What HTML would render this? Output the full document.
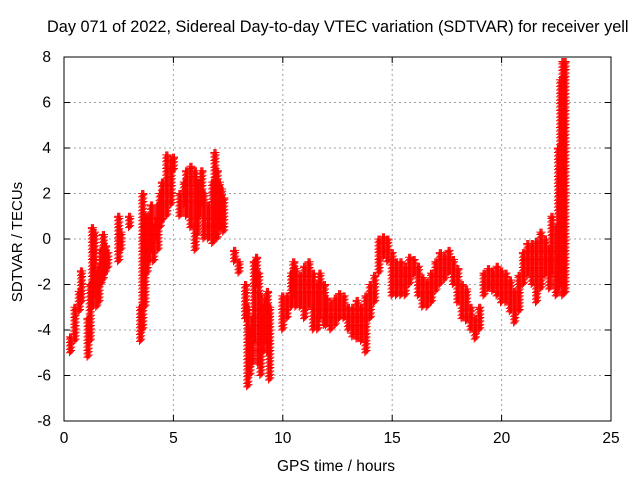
<!DOCTYPE html>
<html><head><meta charset="utf-8"><style>
body{margin:0;background:#fff;}
svg{display:block;font-family:"Liberation Sans",sans-serif;}
</style></head><body>
<svg id="chart" width="640" height="480">
<text x="47" y="32" font-size="16.3" fill="#000">Day 071 of 2022, Sidereal Day-to-day VTEC variation (SDTVAR) for receiver yell</text>
<g id="grid"></g>
<g id="marks"></g>
<rect x="64" y="57" width="547" height="364" fill="none" stroke="#000"/>
<g id="ticks"></g>
<text x="336" y="471" font-size="15.5" text-anchor="middle">GPS time / hours</text>
<text transform="translate(22,242) rotate(-90)" font-size="15" text-anchor="middle">SDTVAR / TECUs</text>
</svg>
<script>
const xTicks=[0,5,10,15,20,25];
const yTicks=[-8,-6,-4,-2,0,2,4,6,8];
const times=[0.3,0.5,0.7,0.8,1.1,1.2,1.3,1.4,1.5,1.6,1.7,1.8,1.9,2.0,2.5,2.6,3.0,3.5,3.6,3.7,3.8,3.9,4.0,4.1,4.2,4.3,4.4,4.5,4.7,4.9,5.0,5.3,5.5,5.6,5.8,6.0,6.1,6.2,6.3,6.4,6.6,6.8,6.9,7.0,7.1,7.2,7.3,7.8,8.0,8.3,8.4,8.5,8.6,8.7,8.8,8.9,9.0,9.1,9.2,9.3,9.4,10.0,10.2,10.4,10.5,10.6,10.8,11.0,11.2,11.4,11.6,11.7,11.9,12.0,12.2,12.4,12.6,12.8,13.0,13.2,13.4,13.6,13.8,14.0,14.2,14.4,14.6,14.8,15.0,15.2,15.4,15.6,15.8,16.0,16.2,16.4,16.6,16.8,17.0,17.2,17.4,17.6,17.8,18.0,18.2,18.4,18.6,18.8,19.0,19.2,19.4,19.6,19.8,20.0,20.2,20.4,20.6,20.8,21.0,21.2,21.4,21.6,21.8,22.0,22.2,22.3,22.5,22.6,22.7,22.8,22.9];
const lows=[-5,-4.5,-3.2,-2.8,-5.2,-4.5,-3,-2.5,-3,-2.8,-2,-1.8,-1.5,-1.3,-1,-0.5,0.5,-4.5,-4,-3,-1.5,-1,-0.5,-1,0,-0.5,0.5,0.8,1,1.5,3,1,1.5,1,0.5,-0.5,0.2,1,1.5,0,0,-0.2,0,0,0.5,0.5,0.3,-1,-1.5,-3.5,-6.5,-6,-5.5,-4.5,-2,-5.5,-6,-5,-4.5,-5,-6.2,-4,-3.5,-3,-2.5,-3,-3,-3.5,-3,-4,-4,-3.5,-3.8,-3.8,-4,-3.8,-3.5,-3.5,-4,-4.3,-4.4,-4.5,-5,-3.5,-2.8,-1.5,-0.8,-1,-2.5,-2.5,-2.5,-2.5,-2,-1.6,-2.5,-3,-3,-2.8,-2.3,-2,-1.8,-1.5,-2,-2.8,-3.5,-3.6,-4,-4.4,-4,-2.5,-2.2,-2.3,-2.5,-2.8,-2.8,-3.2,-3.7,-3.2,-2,-1.6,-2,-2.8,-2.2,-1.6,-2.2,-1.5,-2.5,-2.2,-2,-2.5,-2.4];
const highs=[-4.3,-3,-2.3,-1.4,-3.5,-2,0.5,0.3,-1.5,-1.2,-0.5,0.2,-0.3,-0.6,1,0.3,1,-3,2,1,1,1,1.5,0.5,0.8,1.5,2,2.5,3.7,3.5,3.6,2,2.5,3,3.2,3,2.5,2.5,3,2,1.5,2.5,3.8,3,2.5,2.2,1.8,-0.5,-1,-2,-3,-4,-3.5,-1,-0.8,-1.5,-2.5,-3,-2.7,-2.3,-3,-2.5,-2.5,-1.5,-1,-1.3,-1.6,-1.2,-1,-1.5,-2,-1.5,-2,-2.6,-2.8,-2.6,-2.4,-2.5,-3,-3,-2.7,-3,-2.5,-2,-1.6,0,0.1,0,-0.6,-1,-1,-1.2,-0.8,-0.9,-1.2,-1.7,-1.9,-1.5,-1,-0.6,-0.7,-0.5,-0.9,-1.3,-2,-2.2,-3,-3.5,-3,-1.5,-1.3,-1.4,-1.2,-1.4,-1.5,-1.8,-2.3,-1.6,-0.6,-0.2,-0.2,-0.1,0.3,0,-0.4,1,0.5,4,7,7.8,7.8];
const NS='http://www.w3.org/2000/svg';
const X0=64,X1=611,Y0=421,Y1=57;
function xs(t){return X0+(t-0)/(25-0)*(X1-X0);}
function ys(v){return Y0-(v+8)/16*(Y0-Y1);}
const grid=document.getElementById('grid'),ticks=document.getElementById('ticks'),marks=document.getElementById('marks');
function line(p,x1,y1,x2,y2,st,da){const l=document.createElementNS(NS,'line');l.setAttribute('x1',x1);l.setAttribute('y1',y1);l.setAttribute('x2',x2);l.setAttribute('y2',y2);l.setAttribute('stroke',st);if(da)l.setAttribute('stroke-dasharray',da);p.appendChild(l);return l;}
xTicks.forEach(t=>{const x=xs(t);
 if(t>0&&t<25){const g=line(grid,x,Y0,x,Y1,'#a0a0a0','2,3');}
 const a=line(ticks,x,Y0,x,Y0-6,'#000');
 const b=line(ticks,x,Y1,x,Y1+6,'#000');
 const tx=document.createElementNS(NS,'text');tx.setAttribute('x',x);tx.setAttribute('y',443);tx.setAttribute('font-size','15.5');tx.setAttribute('text-anchor','middle');tx.textContent=t;
 
 
 ticks.appendChild(tx);});
yTicks.forEach(v=>{const y=ys(v);
 if(v>-8&&v<8){const g=line(grid,X0,y,X1,y,'#a0a0a0','2,3');}
 const a=line(ticks,X0,y,X0+6,y,'#000');
 const b=line(ticks,X1,y,X1-6,y,'#000');
 const tx=document.createElementNS(NS,'text');tx.setAttribute('x',51);tx.setAttribute('y',y+5);tx.setAttribute('font-size','15.5');tx.setAttribute('text-anchor','end');tx.textContent=v;
 
 
 ticks.appendChild(tx);});
let d='';
function plus(x,y){d+=`M${x-3.5},${y}h7M${x},${y-3.5}v7`;}
times.forEach((t,i)=>{const xc=xs(t);
 [-1.1,0,1.1].forEach((dx,k)=>{const x=xc+dx;
  for(let v=lows[i]+k*0.05;v<=highs[i]+0.001;v+=0.15){plus(x,ys(v));}
  plus(x,ys(highs[i]));});});
const p=document.createElementNS(NS,'path');p.setAttribute('d',d);p.setAttribute('stroke','#ff0000');p.setAttribute('stroke-width','1');p.setAttribute('fill','none');


marks.appendChild(p);
</script>
</body></html>
